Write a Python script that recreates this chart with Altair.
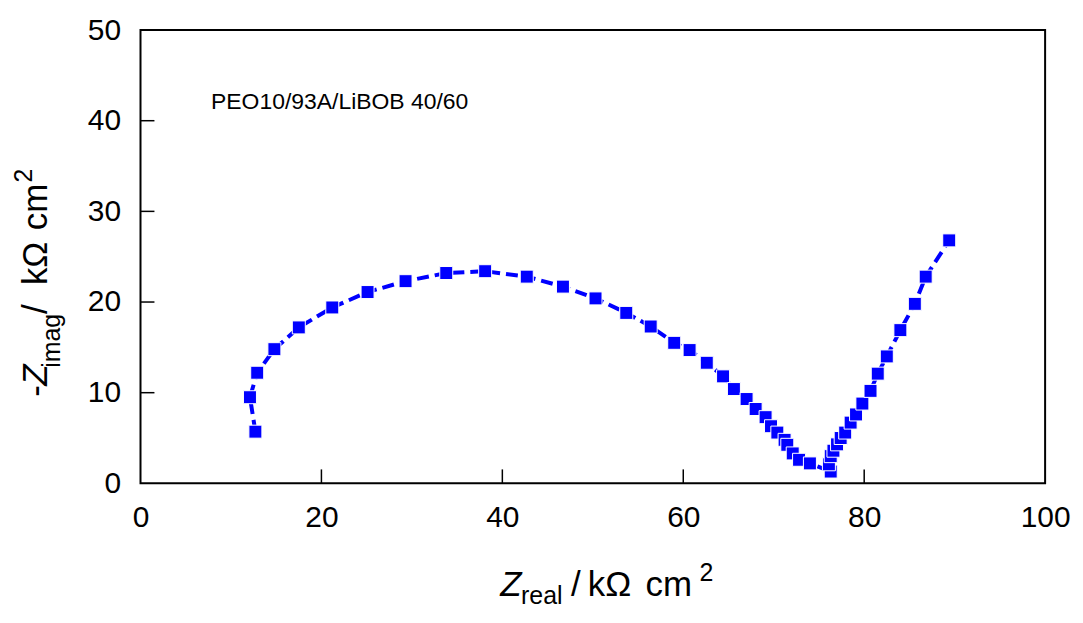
import altair as alt
import pandas as pd

# ---- data ----
z_real = [12.7, 12.1, 12.9, 14.8, 17.5, 21.2, 25.1, 29.3, 33.8, 38.1, 42.7, 46.7,
          50.3, 53.7, 56.4, 59.0, 60.7, 62.6, 64.4, 65.6, 67.0, 68.0, 69.1, 69.7,
          70.4, 71.2, 71.5, 72.1, 72.8, 74.0, 76.3, 76.1, 76.3, 76.6, 77.0, 77.4,
          77.9, 78.5, 79.1, 79.8, 80.7, 81.5, 82.5, 84.0, 85.6, 86.8, 89.4]
z_imag = [5.7, 9.5, 12.2, 14.8, 17.2, 19.4, 21.1, 22.3, 23.2, 23.4, 22.8, 21.7,
          20.4, 18.8, 17.3, 15.5, 14.7, 13.3, 11.8, 10.4, 9.3, 8.2, 7.3, 6.3,
          5.6, 4.8, 4.25, 3.3, 2.6, 2.2, 1.3, 2.1, 3.0, 3.6, 4.3, 5.0,
          5.6, 6.7, 7.6, 8.8, 10.2, 12.1, 14.0, 16.9, 19.8, 22.8, 26.8]
x_tick_values = [0, 20, 40, 60, 80, 100]
y_tick_values = [0, 10, 20, 30, 40, 50]
x_inner_ticks = [20, 40, 60, 80]
y_inner_ticks = [10, 20, 30, 40]
annotation = "PEO10/93A/LiBOB 40/60"
annotation_pos = [7.8, 41.3]

FONT = "Liberation Sans"
W, H = 908, 455

df = pd.DataFrame({"zr": z_real, "zi": z_imag, "order": list(range(len(z_real)))})

xscale = alt.Scale(domain=[0, 100], nice=False, zero=False)
yscale = alt.Scale(domain=[0, 50], nice=False, zero=False)

xaxis = alt.Axis(values=x_tick_values, labelFontSize=30, labelFont=FONT, labelColor="black",
                 ticks=False, domain=False, grid=False, labelPadding=19, title=None,
                 labelFlush=False)
yaxis = alt.Axis(values=y_tick_values, labelFontSize=30, labelFont=FONT, labelColor="black",
                 ticks=False, domain=False, grid=False, labelPadding=20, title=None)

X = lambda f: alt.X(f, scale=xscale, axis=xaxis)
Y = lambda f: alt.Y(f, scale=yscale, axis=yaxis)

base = alt.Chart(df)

line = base.mark_line(color="#0000FF", strokeWidth=4, strokeDash=[12, 6]).encode(
    x=X("zr:Q"), y=Y("zi:Q"), order="order:Q",
)
points = base.mark_point(shape="square", filled=True, fill="#0000FF", size=170,
                         stroke="white", strokeWidth=1, opacity=1).encode(
    x=X("zr:Q"), y=Y("zi:Q"), order="order:Q",
)

xt = alt.Chart(pd.DataFrame({"v": x_inner_ticks})).mark_rule(color="black", strokeWidth=1.5).encode(
    x=X("v:Q"), y=alt.value(H), y2=alt.value(H - 14))
yt = alt.Chart(pd.DataFrame({"v": y_inner_ticks})).mark_rule(color="black", strokeWidth=1.5).encode(
    y=Y("v:Q"), x=alt.value(0), x2=alt.value(14))

ann = alt.Chart(pd.DataFrame({"x": [annotation_pos[0]], "y": [annotation_pos[1]], "t": [annotation]})).mark_text(
    font=FONT, fontSize=23, align="left", baseline="alphabetic", color="black").encode(
    x=X("x:Q"), y=Y("y:Q"), text="t:N")

one = alt.Data(values=[{"a": 1}])


def piece(txt, x, y, size, italic=False, angle=0):
    kw = dict(text=txt, font=FONT, fontSize=size, align="left", baseline="alphabetic", color="black")
    if italic:
        kw["fontStyle"] = "italic"
    if angle:
        kw["angle"] = angle
    return alt.Chart(one).mark_text(**kw).encode(x=alt.value(x), y=alt.value(y))


# x-axis title: Z_real / kΩ cm²
xb = 568
xtitle = [
    piece("Z", 361, xb, 35, italic=True),
    piece("real", 382, xb + 8, 25),
    piece("/", 432, xb, 35),
    piece("kΩ", 449, xb, 35),
    piece("cm", 507, xb, 35),
    piece("2", 561, xb - 15, 25),
]
# y-axis title: -Z_imag / kΩ cm² (rotated)
yb = -94
ytitle = [
    piece("-", yb, 368, 35, angle=270),
    piece("Z", yb, 357, 35, italic=True, angle=270),
    piece("imag", yb + 13, 339, 25, angle=270),
    piece("/", yb, 285, 35, angle=270),
    piece("kΩ", yb, 256, 35, angle=270),
    piece("cm", yb, 201, 35, angle=270),
    piece("2", yb - 15, 153, 25, angle=270),
]

chart = alt.layer(line, points, xt, yt, ann, *xtitle, *ytitle).properties(
    width=W, height=H,
    background="white",
    autosize=alt.AutoSizeParams(type="none"),
    padding={"left": 133, "top": 21, "right": 30, "bottom": 127},
).configure_view(stroke="black", strokeWidth=2)

chart.save("out.html", embed_options={"renderer": "svg", "actions": False})
